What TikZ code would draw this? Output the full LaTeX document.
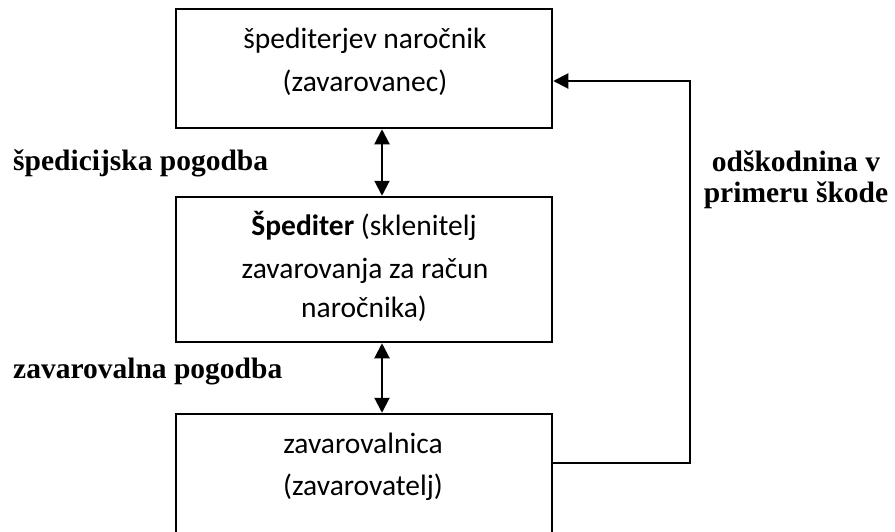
\documentclass[tikz,border=0pt]{standalone}
\usepackage{fontspec}
\setmainfont{Carlito}
\newfontfamily\labfont{Liberation Serif}
\usetikzlibrary{arrows.meta}
\begin{document}
\begin{tikzpicture}[x=1pt,y=-1pt,
  box/.style={draw, line width=2.5pt, minimum width=376pt, inner sep=0pt},
  txt/.style={font=\fontsize{29.5}{43}\selectfont, anchor=base, inner sep=0pt},
  lab/.style={font=\labfont\bfseries\fontsize{29.5}{34}\selectfont, anchor=base west, inner sep=0pt},
  labc/.style={font=\labfont\bfseries\fontsize{29.5}{34}\selectfont, anchor=base, inner sep=0pt},
  conn/.style={line width=2pt, {Triangle[width=15pt,length=15pt]}-{Triangle[width=15pt,length=15pt]}},
  ret/.style={line width=2pt, -{Triangle[width=15pt,length=15pt]}}]
\useasboundingbox (0,0) rectangle (895,531);
\clip (0,0) rectangle (895,531);
\node[box, minimum height=119pt] (top) at (364,68.5) {};
\node[box, minimum height=145pt] (mid) at (364,269.5) {};
\node[box, minimum height=150pt] (bot) at (364,489) {};
\node[txt] (t1) at (365,48) {špediterjev naročnik};
\node[txt] (t2) at (365,91) {(zavarovanec)};
\node[txt] (m1) at (364,235) {\textbf{Špediter} (sklenitelj};
\node[txt] (m2) at (365,278) {zavarovanja za račun};
\node[txt] (m3) at (364,317) {naročnika)};
\node[txt] (b1) at (363,453) {zavarovalnica};
\node[txt] (b2) at (363,495) {(zavarovatelj)};
\node[lab] (l1) at (13,170) {špedicijska pogodba};
\node[lab] (l2) at (13,378) {zavarovalna pogodba};
\node[labc] (r1) at (796,171) {odškodnina v};
\node[labc] (r2) at (796,202) {primeru škode};
\coordinate (ax) at (382,0);
\draw[conn] (top.south -| ax) -- (mid.north -| ax);
\draw[conn] (mid.south -| ax) -- (bot.north -| ax);
\coordinate (rlo) at (690,463);
\coordinate (rhi) at (690,81);
\draw[ret] (bot.east |- rlo) -- (rlo) -- (rhi) -- (top.east |- rhi);
\end{tikzpicture}
\end{document}
